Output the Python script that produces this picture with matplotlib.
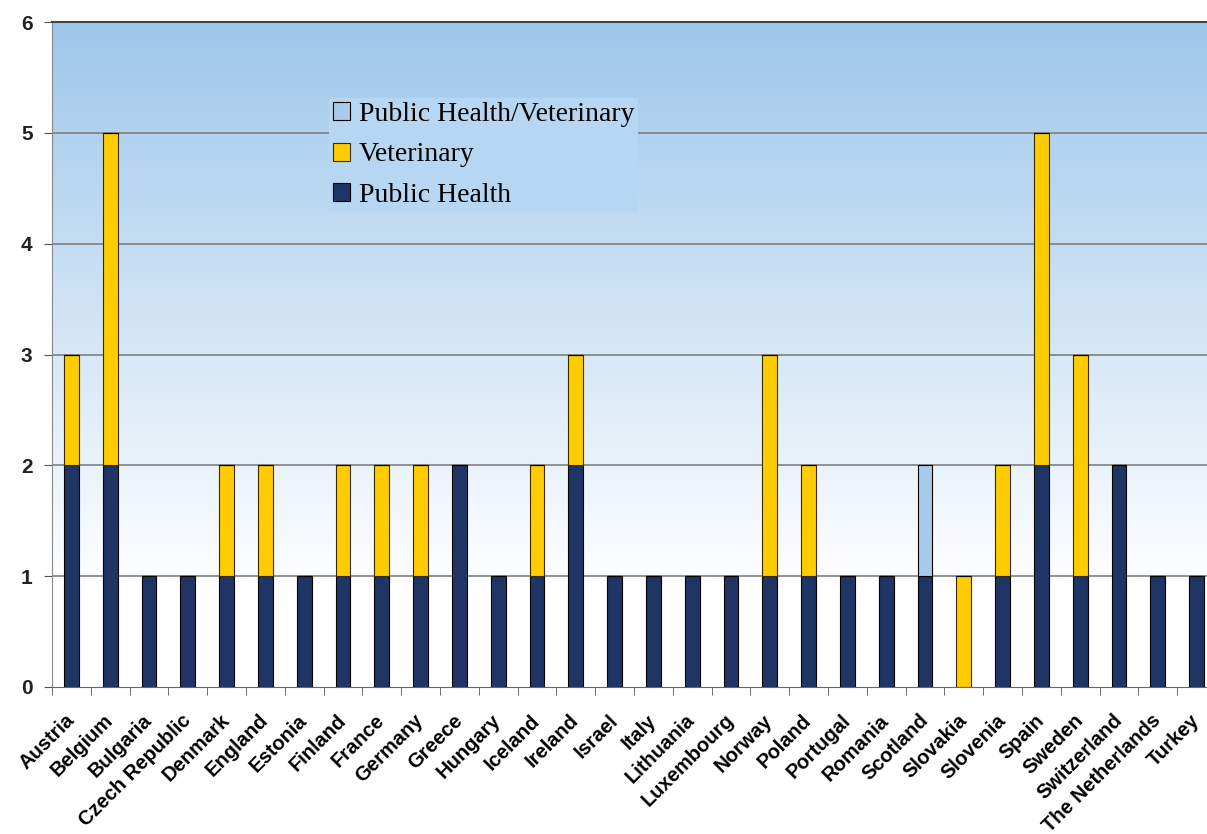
import numpy as np
import matplotlib.pyplot as plt
from matplotlib.colors import LinearSegmentedColormap

countries = ['Austria', 'Belgium', 'Bulgaria', 'Czech Republic', 'Denmark', 'England',
             'Estonia', 'Finland', 'France', 'Germany', 'Greece', 'Hungary', 'Iceland',
             'Ireland', 'Israel', 'Italy', 'Lithuania', 'Luxembourg', 'Norway', 'Poland',
             'Portugal', 'Romania', 'Scotland', 'Slovakia', 'Slovenia', 'Spain', 'Sweden',
             'Switzerland', 'The Netherlands', 'Turkey']
public_health = [2, 2, 1, 1, 1, 1, 1, 1, 1, 1, 2, 1, 1, 2, 1, 1, 1, 1, 1, 1,
                 1, 1, 1, 0, 1, 2, 1, 2, 1, 1]
veterinary = [1, 3, 0, 0, 1, 1, 0, 1, 1, 1, 0, 0, 1, 1, 0, 0, 0, 0, 2, 1,
              0, 0, 0, 1, 1, 3, 2, 0, 0, 0]
ph_vet = [0, 0, 0, 0, 0, 0, 0, 0, 0, 0, 0, 0, 0, 0, 0, 0, 0, 0, 0, 0,
          0, 0, 1, 0, 0, 0, 0, 0, 0, 0]

ph = np.array(public_health)
vet = np.array(veterinary)
phv = np.array(ph_vet)
x = np.arange(len(countries))
n = len(countries)

fig = plt.figure(figsize=(12.07, 8.34), dpi=100)
# axes run a bit past the right edge of the picture, as in the original
cw = 38.8
ax = fig.add_axes([52 / 1207, 147 / 834, (n * cw) / 1207, 665 / 834])

# background gradient: light blue at the top fading to white near 1
top_col = (0.62, 0.78, 0.92)
cmap = LinearSegmentedColormap.from_list('bg', [(1, 1, 1), top_col])
yy = np.linspace(0, 6, 300)
grad = np.clip((yy - 0.9) / 5.1, 0, 1)[:, None]
ax.imshow(grad, cmap=cmap, aspect='auto', extent=(-0.5, n - 0.5, 0, 6),
          origin='lower', vmin=0, vmax=1, zorder=0)

for g in range(1, 6):
    ax.axhline(g, color='#808080', lw=1.2, zorder=1)

w = 0.38
ax.bar(x, ph, w, color='#1f3566', edgecolor='black', lw=0.8, label='Public Health', zorder=2)
ax.bar(x, vet, w, bottom=ph, color='#ffcc00', edgecolor='#3a2a00', lw=0.8,
       label='Veterinary', zorder=2)
ax.bar(x, phv, w, bottom=ph + vet, color='#a8cbeb', edgecolor='black', lw=0.8,
       label='Public Health/Veterinary', zorder=2)

ax.set_xlim(-0.5, n - 0.5)
ax.set_ylim(0, 6)
ax.set_yticks(range(7))
ax.set_xticks(x)
ax.set_xticklabels(countries, rotation=45, ha='right', va='center', rotation_mode='anchor',
                   fontsize=14.5, fontweight='bold', family='Liberation Sans')
ax.set_xticks(np.arange(n) - 0.5, minor=True)
ax.tick_params(axis='x', which='major', length=0, pad=22)
ax.tick_params(axis='x', which='minor', length=6, color='#555555')
ax.tick_params(axis='y', length=6, color='#555555', pad=8)
for lbl in ax.get_yticklabels():
    lbl.set_fontsize(15)
    lbl.set_fontweight('bold')
    lbl.set_family('Liberation Sans')
    lbl.set_color('#222222')

ax.spines['top'].set_color('#444444')
ax.spines['top'].set_linewidth(1.5)
ax.spines['left'].set_color('#888888')
ax.spines['bottom'].set_color('#666666')
ax.spines['right'].set_visible(False)

handles, labels = ax.get_legend_handles_labels()
leg = ax.legend(handles[::-1], labels[::-1], loc='upper left',
                bbox_to_anchor=((329 - 52) / (n * cw), 1 - (98 - 22) / 665),
                prop={'family': 'Liberation Serif', 'size': 20},
                frameon=True, facecolor=(0.715, 0.838, 0.946), edgecolor='none', framealpha=1,
                fancybox=False, handlelength=0.62, handleheight=0.62, handletextpad=0.3,
                labelspacing=0.55, borderpad=0.15, borderaxespad=0)
leg.set_zorder(3)

fig.savefig('out.png', dpi=100)
